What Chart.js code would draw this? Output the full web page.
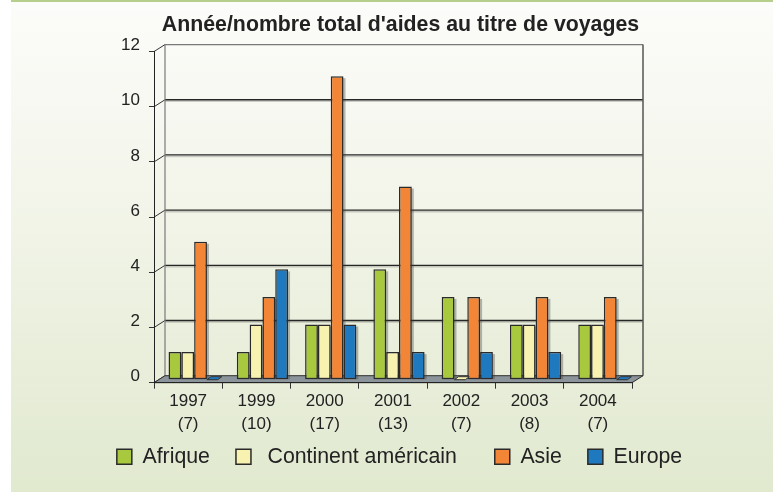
<!DOCTYPE html>
<html>
<head>
<meta charset="utf-8">
<script src="https://cdn.jsdelivr.net/npm/chart.js@4.4.0/dist/chart.umd.min.js"></script>
<style>
  html, body { margin: 0; padding: 0; background: #fff; }
</style>
</head>
<body>
<canvas id="chart" width="773" height="492"></canvas>
<script>
var years = [["1997", "(7)"], ["1999", "(10)"], ["2000", "(17)"], ["2001", "(13)"], ["2002", "(7)"], ["2003", "(8)"], ["2004", "(7)"]];
var afrique = [1, 1, 2, 4, 3, 2, 2];
var amerique = [1, 2, 2, 1, 0, 2, 2];
var asie = [5, 3, 11, 7, 3, 3, 3];
var europe = [0, 4, 2, 1, 1, 1, 0];
var yTicks = [0, 2, 4, 6, 8, 10, 12];

var FONT = "'Liberation Sans', Arial, sans-serif";
// depth of the fake 3d box
var BACK_DX = 11, BACK_DY = 7;
var BAR_DX = 6, BAR_DY = 3;

var boxPlugin = {
  id: "box3d",
  beforeDraw: function (chart) {
    var ctx = chart.ctx;
    var a = chart.chartArea;
    var y = chart.scales.y;
    ctx.save();
    ctx.fillStyle = "#fff";
    ctx.fillRect(0, 0, chart.width, chart.height);
    var g = ctx.createLinearGradient(0, 0, 0, chart.height);
    g.addColorStop(0, "#fcfcfa");
    g.addColorStop(0.35, "#f4f6ec");
    g.addColorStop(1, "#e1e9cf");
    ctx.fillStyle = g;
    ctx.fillRect(11, 0, chart.width - 11, chart.height);
    ctx.fillStyle = "#b6cf8c";
    ctx.fillRect(11, 0, chart.width - 11, 2);

    var l = a.left + BACK_DX, r = a.right + BACK_DX;
    var top = y.getPixelForValue(12) - BACK_DY;
    var bot = y.getPixelForValue(0) - BACK_DY;

    // gridlines on back wall + diagonals
    yTicks.forEach(function (v) {
      var py = y.getPixelForValue(v);
      ctx.strokeStyle = "#333";
      ctx.lineWidth = 1;
      ctx.beginPath();
      ctx.moveTo(a.left, py);
      ctx.lineTo(l, py - BACK_DY);
      ctx.stroke();
      if (v > 0 && v < 12) {
        ctx.strokeStyle = "rgba(0,0,0,0.18)";
        ctx.lineWidth = 1.5;
        ctx.beginPath();
        ctx.moveTo(l, py - BACK_DY + 1.5);
        ctx.lineTo(r, py - BACK_DY + 1.5);
        ctx.stroke();
        ctx.strokeStyle = "#262626";
        ctx.lineWidth = 1.3;
        ctx.beginPath();
        ctx.moveTo(l, py - BACK_DY);
        ctx.lineTo(r, py - BACK_DY);
        ctx.stroke();
      }
    });
    ctx.strokeStyle = "#7a7a7a";
    ctx.lineWidth = 1.2;
    ctx.beginPath();
    ctx.moveTo(l, bot);
    ctx.lineTo(l, top);
    ctx.lineTo(r, top);
    ctx.stroke();
    ctx.strokeStyle = "#555";
    ctx.lineWidth = 1.5;
    ctx.beginPath();
    ctx.moveTo(r, top);
    ctx.lineTo(r, bot);
    ctx.stroke();

    // floor
    var fb = y.getPixelForValue(0);
    ctx.beginPath();
    ctx.moveTo(a.left, fb);
    ctx.lineTo(a.right, fb);
    ctx.lineTo(r, bot);
    ctx.lineTo(l, bot);
    ctx.closePath();
    ctx.fillStyle = "#8b949a";
    ctx.fill();
    ctx.strokeStyle = "#2e2e2e";
    ctx.lineWidth = 1;
    ctx.stroke();
    ctx.restore();
  },
  beforeDatasetsDraw: function (chart) {
    var ctx = chart.ctx;
    ctx.save();
    ctx.translate(BAR_DX, -BAR_DY);
    // soft shadow on the right of each bar
    ctx.fillStyle = "rgba(60,60,60,0.35)";
    chart.data.datasets.forEach(function (ds, i) {
      chart.getDatasetMeta(i).data.forEach(function (el) {
        var h = el.base - el.y;
        if (h > 0) ctx.fillRect(el.x - el.width / 2 + 2, el.y + 2, el.width, h - 2);
      });
    });
  },
  afterDatasetsDraw: function (chart) {
    var ctx = chart.ctx;
    // zero values drawn as a flat slab
    chart.data.datasets.forEach(function (ds, i) {
      chart.getDatasetMeta(i).data.forEach(function (el, j) {
        if (ds.data[j] !== 0) return;
        var x0 = el.x - el.width / 2, x1 = el.x + el.width / 2, b = el.base;
        ctx.beginPath();
        ctx.moveTo(x0, b);
        ctx.lineTo(x1 - 2, b);
        ctx.lineTo(x1 + 2, b - 3);
        ctx.lineTo(x0 + 4, b - 3);
        ctx.closePath();
        ctx.fillStyle = ds.backgroundColor;
        ctx.fill();
        ctx.strokeStyle = "#333";
        ctx.lineWidth = 1;
        ctx.stroke();
      });
    });
    ctx.restore();
  },
  afterLayout: function (chart) {
    var lg = chart.legend;
    lg.left += 13;
    lg.right += 13;
    lg.top = 456.5 - 10.5 - lg.options.labels.padding;
    var t = chart.titleBlock;
    t.left += 14;
    t.right += 14;
  }
};

function makeSet(label, data, color) {
  return {
    label: label,
    data: data,
    backgroundColor: color,
    borderColor: "#2a2a2a",
    borderWidth: 1.5,
    borderSkipped: false,
    categoryPercentage: 0.75,
    barPercentage: 1.0,
    clip: false
  };
}

new Chart(document.getElementById("chart"), {
  type: "bar",
  data: {
    labels: years,
    datasets: [
      makeSet("Afrique", afrique, "#a8c83e"),
      makeSet(" Continent américain  ", amerique, "#f8f2b0"),
      makeSet("Asie", asie, "#f28636"),
      makeSet("Europe", europe, "#1f79bf")
    ]
  },
  options: {
    responsive: false,
    animation: false,
    layout: { padding: 0 },
    plugins: {
      title: {
        display: true,
        text: "Année/nombre total d'aides au titre de voyages",
        color: "#222",
        font: { family: FONT, size: 21.3, weight: "bold" },
        padding: { top: 12, bottom: 14 }
      },
      legend: {
        position: "bottom",
        maxHeight: 58,
        labels: {
          boxWidth: 15,
          boxHeight: 15,
          padding: 26,
          color: "#222",
          font: { family: FONT, size: 21.3 }
        }
      },
      tooltip: { enabled: false }
    },
    scales: {
      x: {
        ticks: {
          color: "#222",
          font: { family: FONT, size: 17, lineHeight: 1.3 },
          padding: 2,
          maxRotation: 0,
          autoSkip: false
        },
        grid: { offset: true, drawOnChartArea: false, tickLength: 6, color: "#333" },
        border: { display: true, color: "#222" },
        afterFit: function (s) { s.height = 52; }
      },
      y: {
        position: "left",
        min: 0,
        max: 12,
        afterBuildTicks: function (s) { s.ticks = yTicks.map(function (v) { return { value: v }; }); },
        ticks: {
          color: "#222",
          font: { family: FONT, size: 17 },
          padding: 9,
          labelOffset: -6
        },
        grid: { drawOnChartArea: false, tickLength: 5, color: "#333" },
        border: { display: true, color: "#222" },
        afterFit: function (s) { s.width = 154; }
      },
      yr: {
        type: "linear",
        position: "right",
        display: true,
        grid: { display: false },
        ticks: { display: false },
        border: { display: false },
        afterFit: function (s) { s.width = 141; }
      }
    }
  },
  plugins: [boxPlugin]
});
</script>
</body>
</html>
